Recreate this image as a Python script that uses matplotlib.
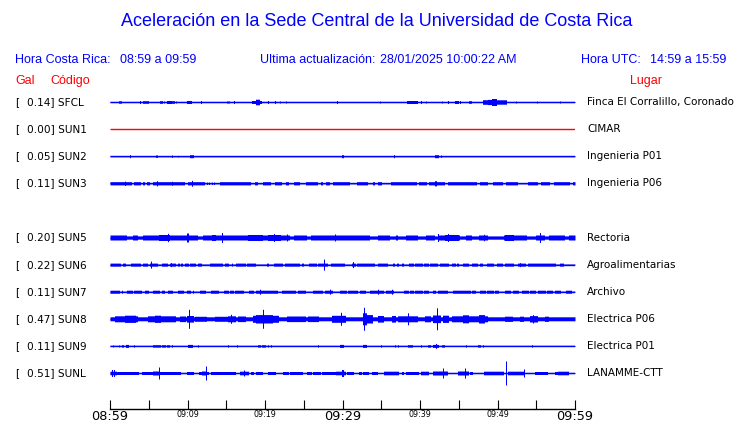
import numpy as np
import matplotlib
matplotlib.use("Agg")
import matplotlib.pyplot as plt

# ---------------- data ----------------
title = "Aceleración en la Sede Central de la Universidad de Costa Rica"
hora_cr = "08:59 a 09:59"
hora_utc = "14:59 a 15:59"
actualizacion = "28/01/2025 10:00:22 AM"

codes = ["SFCL", "SUN1", "SUN2", "SUN3", "SUN4", "SUN5",
         "SUN6", "SUN7", "SUN8", "SUN9", "SUNL"]
places = ["Finca El Corralillo, Coronado", "CIMAR", "Ingenieria P01",
          "Ingenieria P06", None, "Rectoria", "Agroalimentarias", "Archivo",
          "Electrica P06", "Electrica P01", "LANAMME-CTT"]
peak_gal = [0.14, 0.00, 0.05, 0.11, None, 0.20, 0.22, 0.11, 0.47, 0.11, 0.51]
# background half-amplitude of each trace (display counts)
base_amp = [0.6, 0.0, 0.6, 1.6, None, 2.5, 0.6, 0.6, 2.0, 0.6, 0.6]

# bursts: (start minute, end minute, half amplitude) read from the record
sfcl = [(1.2, 1.4, 1.2), (3.9, 3.9, 1.5), (4.3, 4.5, 1.3), (4.65, 4.85, 1.3),
        (6.4, 6.7, 1.3), (7.0, 7.0, 1.0), (7.4, 7.85, 1.5), (8.0, 8.25, 1.3),
        (8.5, 8.5, 1.0), (9.9, 10.45, 1.5), (11.75, 11.75, 1.5),
        (15.1, 15.35, 1.0), (16.05, 16.05, 1.5), (18.35, 18.9, 1.5),
        (18.9, 19.35, 2.8), (19.35, 19.5, 1.5), (20.45, 20.45, 1.5),
        (21.3, 21.3, 1.5), (21.95, 21.95, 1.0), (22.7, 22.7, 1.0),
        (29.35, 29.35, 1.5), (34.9, 34.9, 1.0), (38.35, 39.65, 1.5),
        (40.15, 40.15, 1.5), (40.75, 40.75, 1.0), (42.9, 42.9, 1.0),
        (43.65, 43.65, 1.5), (44.5, 44.85, 1.5), (45.2, 45.2, 1.5),
        (46.3, 46.6, 1.3), (48.15, 48.75, 2.3), (48.75, 49.25, 2.6),
        (49.25, 50.0, 3.5), (50.0, 51.05, 2.2), (52.45, 52.45, 1.0),
        (55.15, 55.15, 1.0), (58.1, 58.1, 1.0)]
sun1 = []
sun2 = [(2.6, 2.6, 1.5), (6.0, 6.0, 1.2), (7.95, 7.95, 1.2), (8.8, 8.8, 0.8),
        (10.3, 10.65, 1.5), (30.0, 30.0, 1.5), (36.7, 36.7, 1.5),
        (41.95, 42.3, 1.5), (42.75, 42.75, 1.2)]
sun3 = [(2.8, 3.0, 0.6), (3.95, 4.1, 0.6), (4.5, 4.65, 0.6), (5.15, 5.4, 0.6),
        (9.7, 9.9, 0.6), (12.25, 14.0, 0.6), (12.5, 12.5, 1.2), (12.8, 12.8, 1.2),
        (13.1, 13.1, 1.2), (13.45, 13.45, 1.2), (18.15, 18.6, 0.6),
        (19.05, 19.55, 0.6), (20.75, 21.2, 0.6), (22.15, 22.6, 0.6),
        (23.15, 23.55, 0.6), (24.5, 25.1, 0.6), (26.9, 27.1, 0.6),
        (27.5, 27.75, 0.6), (28.4, 28.6, 0.6), (30.95, 31.2, 0.6),
        (31.4, 31.8, 0.6), (33.35, 33.75, 0.6), (34.2, 34.4, 0.6),
        (35.15, 36.15, 0.6), (39.55, 39.8, 0.6), (40.85, 41.0, 0.6),
        (43.2, 43.45, 0.6), (47.3, 47.55, 0.6), (48.8, 49.25, 0.6),
        (50.75, 50.95, 0.6), (52.7, 53.1, 0.6), (53.35, 53.75, 0.6),
        (55.25, 55.5, 0.6), (56.75, 57.2, 0.6), (59.35, 59.55, 0.6),
        (1.95, 1.95, 2.2), (6.1, 6.1, 2.6), (7.95, 7.95, 2.0),
        (10.6, 10.6, 3.0), (42.0, 42.0, 2.6)]
sun5 = [(2.15, 2.8, 1.6), (3.65, 4.1, 1.6), (11.4, 11.85, 1.6),
        (23.2, 23.65, 1.6), (25.4, 25.8, 1.6), (33.55, 34.4, 1.6),
        (36.1, 36.75, 1.6), (37.2, 38.05, 1.6), (39.8, 40.65, 1.6),
        (41.95, 42.3, 1.6), (45.15, 45.8, 1.6), (46.65, 47.5, 1.6),
        (48.8, 50.75, 1.6), (53.75, 54.85, 1.6), (56.1, 56.55, 1.6),
        (58.7, 59.15, 1.6), (6.35, 7.55, 3.0), (7.5, 7.5, 4.2),
        (10.0, 10.0, 4.5), (13.2, 13.55, 3.0), (14.5, 14.5, 5.0),
        (17.85, 19.55, 3.0), (20.45, 21.95, 3.0), (21.2, 21.2, 4.0),
        (22.8, 22.8, 3.5), (29.05, 29.05, 3.5), (42.35, 42.35, 4.0),
        (43.2, 44.95, 3.0), (43.6, 43.6, 4.0), (48.2, 48.2, 3.2),
        (50.95, 52.05, 3.0), (55.5, 55.5, 5.0)]
sun6 = [(0.0, 1.3, 1.5), (1.7, 1.95, 1.5), (2.7, 3.85, 1.5), (4.3, 4.75, 1.5),
        (5.15, 6.0, 1.5), (6.75, 7.35, 1.5), (7.75, 8.45, 1.5), (8.75, 8.9, 1.5),
        (9.15, 9.35, 1.5), (9.7, 10.0, 1.5), (10.3, 10.95, 1.5),
        (11.4, 11.7, 1.5), (12.9, 14.4, 1.5), (14.9, 15.2, 1.5),
        (15.7, 15.7, 1.5), (16.25, 17.4, 1.5), (17.65, 18.7, 1.5),
        (20.2, 20.45, 1.5), (21.2, 22.25, 1.5), (22.6, 24.4, 1.5),
        (24.75, 24.95, 1.5), (25.7, 26.55, 1.5), (26.8, 27.95, 1.5),
        (28.5, 30.2, 1.5), (31.2, 31.6, 1.5), (31.85, 34.1, 1.5),
        (34.6, 35.8, 1.5), (36.55, 36.7, 1.5), (37.0, 37.2, 1.5),
        (37.65, 37.85, 1.5), (38.6, 39.15, 1.5), (39.35, 40.2, 1.5),
        (40.55, 41.05, 1.5), (41.3, 42.15, 1.5), (42.6, 43.65, 1.5),
        (44.1, 44.5, 1.5), (44.75, 44.95, 1.5), (45.6, 46.25, 1.5),
        (46.65, 47.3, 1.5), (47.75, 47.95, 1.5), (48.6, 49.45, 1.5),
        (50.0, 50.55, 1.5), (50.95, 52.05, 1.5), (52.7, 53.55, 1.5),
        (54.0, 57.4, 1.5), (58.05, 58.5, 1.5), (5.3, 5.3, 3.5),
        (7.85, 7.85, 2.0), (27.65, 27.65, 5.5), (31.4, 31.4, 3.0),
        (52.9, 52.9, 2.0)]
sun7 = [(0.0, 1.1, 1.5), (1.5, 1.5, 1.5), (2.25, 2.8, 1.5), (3.15, 3.45, 1.5),
        (3.65, 4.0, 1.5), (4.5, 4.95, 1.5), (5.6, 6.3, 1.5), (6.65, 7.0, 1.5),
        (7.45, 7.95, 1.5), (8.8, 9.45, 1.5), (9.9, 10.3, 1.5),
        (10.75, 10.75, 1.5), (11.6, 12.25, 1.5), (13.05, 13.9, 1.5),
        (14.75, 15.25, 1.5), (15.5, 15.9, 1.5), (16.15, 17.1, 1.5),
        (17.95, 18.5, 1.5), (18.9, 19.9, 1.5), (20.0, 21.5, 1.5),
        (22.15, 23.85, 1.5), (24.2, 25.15, 1.5), (26.25, 27.3, 1.5),
        (27.75, 28.6, 1.5), (29.7, 30.45, 1.5), (30.75, 31.85, 1.5),
        (32.25, 32.9, 1.5), (33.55, 34.0, 1.5), (34.2, 35.25, 1.5),
        (35.6, 36.55, 1.5), (37.95, 38.5, 1.5), (38.7, 39.15, 1.5),
        (39.35, 40.2, 1.5), (40.5, 41.05, 1.5), (41.7, 41.95, 1.5),
        (42.35, 43.45, 1.5), (44.3, 45.4, 1.5), (45.6, 46.45, 1.5),
        (46.65, 47.1, 1.5), (47.75, 48.4, 1.5), (48.6, 49.45, 1.5),
        (49.7, 50.1, 1.5), (50.95, 51.6, 1.5), (52.05, 52.7, 1.5),
        (53.1, 53.9, 1.5), (54.2, 54.85, 1.5), (55.25, 56.1, 1.5),
        (56.35, 57.0, 1.5), (57.4, 58.05, 1.5), (58.9, 59.5, 1.5),
        (19.4, 19.4, 2.5), (28.4, 28.4, 2.5), (34.6, 34.6, 2.5),
        (36.35, 36.35, 2.5)]
sun8 = [(0.65, 3.45, 3.0), (1.95, 3.2, 3.6), (4.95, 8.4, 3.0), (5.8, 6.45, 3.6),
        (9.05, 9.7, 2.8), (9.9, 10.75, 3.3), (10.2, 10.2, 9.5),
        (10.95, 12.45, 2.5), (13.55, 15.05, 2.5), (15.25, 16.15, 3.0),
        (15.6, 15.6, 4.5), (16.55, 17.4, 2.8), (18.5, 21.7, 3.5),
        (18.9, 20.85, 4.2), (19.8, 19.8, 9.5), (22.9, 25.15, 2.8),
        (25.6, 26.9, 2.8), (28.6, 30.3, 3.5), (29.8, 29.8, 6.5),
        (32.7, 33.1, 6.0), (32.8, 32.8, 11.5), (33.1, 33.75, 4.2),
        (34.6, 35.25, 3.3), (36.35, 36.8, 3.3), (37.2, 39.55, 3.0),
        (38.5, 38.5, 6.0), (40.65, 41.3, 3.0), (41.7, 42.6, 3.8),
        (42.2, 42.2, 11.0), (43.0, 43.65, 3.6), (44.1, 48.6, 3.0),
        (45.6, 46.25, 4.0), (47.55, 48.2, 4.2), (50.95, 51.85, 2.6),
        (52.9, 53.35, 2.6), (54.2, 55.05, 3.2), (54.6, 54.6, 4.2),
        (56.1, 56.55, 2.6)]
sun9 = [(0.45, 0.45, 1.0), (1.1, 1.1, 1.0), (1.5, 1.7, 1.2), (2.05, 2.35, 1.5),
        (3.15, 3.15, 1.2), (5.6, 5.8, 1.2), (6.0, 6.45, 1.2), (6.75, 7.1, 1.2),
        (7.3, 7.55, 1.2), (7.95, 7.95, 1.2), (10.1, 10.6, 1.5),
        (11.4, 11.4, 1.2), (15.25, 15.25, 1.2), (16.35, 16.35, 1.2),
        (19.05, 19.35, 1.2), (19.55, 20.0, 1.2), (20.45, 20.45, 1.2),
        (20.75, 20.75, 1.2), (26.8, 26.8, 1.2), (29.7, 30.05, 1.5),
        (32.7, 33.0, 1.5), (34.95, 34.95, 1.2), (36.8, 36.8, 1.2),
        (37.2, 37.2, 1.2), (38.4, 39.0, 1.2), (40.15, 40.15, 1.2),
        (41.0, 41.3, 1.2), (41.7, 42.35, 1.5), (42.05, 42.05, 2.5),
        (42.9, 43.15, 1.2), (45.9, 45.9, 1.2), (47.5, 47.75, 1.2),
        (48.15, 48.15, 1.2), (54.4, 54.4, 1.2)]
sunl = [(0.0, 0.85, 1.8), (0.2, 0.2, 3.5), (0.55, 0.55, 3.5), (0.85, 3.65, 1.5),
        (4.1, 6.25, 1.5), (5.6, 6.25, 2.0), (6.35, 6.35, 6.0), (6.45, 9.05, 1.5),
        (10.0, 10.75, 1.5), (11.5, 12.7, 1.5), (11.85, 12.25, 2.0),
        (12.45, 12.45, 7.0), (13.05, 14.2, 1.5), (14.3, 15.05, 1.5),
        (15.2, 16.15, 1.5), (16.8, 17.85, 1.8), (17.35, 17.35, 3.0),
        (18.2, 18.5, 1.5), (18.8, 19.55, 1.5), (20.45, 21.3, 1.5),
        (22.35, 23.0, 1.5), (23.2, 24.75, 1.5), (25.4, 25.95, 1.5),
        (26.25, 27.1, 1.5), (27.3, 29.05, 1.5), (29.1, 30.3, 1.8),
        (30.0, 30.0, 3.5), (30.55, 31.4, 1.5), (32.15, 32.45, 1.5),
        (32.7, 33.35, 1.5), (33.75, 34.4, 1.5), (35.4, 37.2, 1.8),
        (37.65, 37.85, 1.5), (38.15, 39.8, 1.5), (40.15, 41.05, 1.8),
        (41.7, 43.45, 2.0), (43.0, 43.0, 5.0), (44.95, 46.25, 2.0),
        (45.8, 45.8, 5.0), (46.45, 46.65, 1.5), (48.3, 50.75, 1.8),
        (51.15, 51.15, 12.0), (51.4, 53.35, 1.8), (53.45, 53.45, 4.0),
        (54.85, 56.35, 1.5), (57.4, 57.75, 1.5), (57.85, 59.15, 1.8)]
bursts = {"SFCL": sfcl, "SUN1": sun1, "SUN2": sun2, "SUN3": sun3, "SUN4": [],
          "SUN5": sun5, "SUN6": sun6, "SUN7": sun7, "SUN8": sun8,
          "SUN9": sun9, "SUNL": sunl}

tick_minutes = list(range(0, 61, 5))
tick_labels = ["08:59", "", "09:09", "", "09:19", "", "09:29", "",
               "09:39", "", "09:49", "", "09:59"]
major_labels = ["08:59", "09:29", "09:59"]

# ---------------- drawing ----------------
W, H = 740, 423
BLUE = "#0000ff"
RED = "#ff0000"
HDR = "Liberation Sans"
LBL = "DejaVu Sans"

fig = plt.figure(figsize=(W / 100, H / 100), dpi=100)
fig.patch.set_facecolor("white")


def ftext(x, y, s, **kw):
    fig.text(x / W, 1 - y / H, s, **kw)


ax = fig.add_axes([110 / W, 1 - 409 / H, 465 / W, (409 - 90) / H])
ax.set_xlim(0, 60)
ax.set_ylim(409, 90)

row0, row_step = 102, 27.1
t = np.linspace(0, 60, 466)
half_px = 60 / 465 / 2

for slot, code in enumerate(codes):
    if peak_gal[slot] is None:
        continue
    y0 = row0 + row_step * slot
    color = RED if peak_gal[slot] == 0 else BLUE
    amp = np.full_like(t, base_amp[slot])
    for a, b, h in bursts[code]:
        m = (t >= a - half_px) & (t <= b + half_px)
        if not m.any():
            m[np.argmin(np.abs(t - a))] = True
        amp[m] = h
    ax.plot([0, 60], [y0, y0], color=color, lw=1.0, solid_capstyle="butt")
    if amp.max() > 0:
        ax.fill_between(t, y0 - amp, y0 + amp, step="mid", color=color,
                        lw=0, antialiased=False)
    ftext(15, y0, "[", fontsize=7.6, family=LBL, va="center", ha="left")
    ftext(27, y0, f"{peak_gal[slot]:.2f}] {code}", fontsize=7.6, family=LBL,
          va="center", ha="left")
    ftext(587, y0, places[slot], fontsize=7.5, family=LBL, va="center",
          ha="left")

for s in ["top", "left", "right"]:
    ax.spines[s].set_visible(False)
ax.spines["bottom"].set_linewidth(1.0)
ax.set_yticks([])
ax.set_xticks(tick_minutes)
ax.set_xticklabels(tick_labels)
ax.tick_params(axis="x", direction="in", length=6.5, width=0.8, pad=0.5)
for lab in ax.get_xticklabels():
    lab.set_family(LBL)
    lab.set_fontsize(9.3 if lab.get_text() in major_labels else 5.8)
ax.patch.set_alpha(0)

# header
ftext(377, 22, title, fontsize=13, family=HDR, color=BLUE, ha="center",
      va="center")
ftext(15, 60, "Hora Costa Rica:", fontsize=9, family=HDR, color=BLUE, va="center")
ftext(120, 60, hora_cr, fontsize=9, family=HDR, color=BLUE, va="center")
ftext(260, 60, "Ultima actualización:", fontsize=9, family=HDR, color=BLUE,
      va="center")
ftext(380, 60, actualizacion, fontsize=9, family=HDR, color=BLUE, va="center")
ftext(581, 60, "Hora UTC:", fontsize=9, family=HDR, color=BLUE, va="center")
ftext(650, 60, hora_utc, fontsize=9, family=HDR, color=BLUE, va="center")
ftext(15, 81, "Gal", fontsize=9, family=HDR, color=RED, va="center")
ftext(50, 81, "Código", fontsize=9, family=HDR, color=RED, va="center")
ftext(630, 81, "Lugar", fontsize=9, family=HDR, color=RED, va="center")

fig.savefig("out.png", dpi=100)
